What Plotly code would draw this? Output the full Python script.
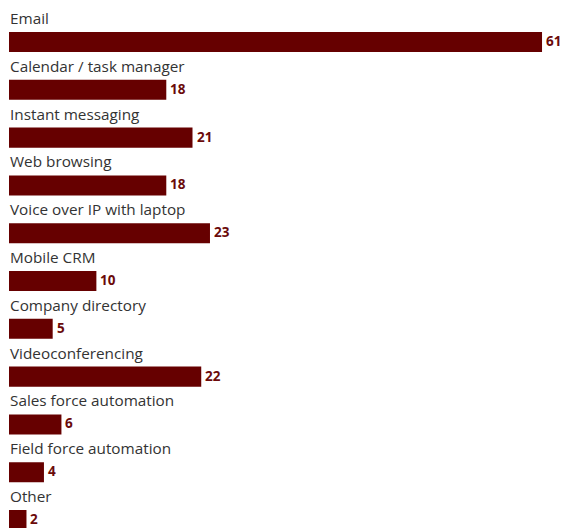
import plotly.graph_objects as go

categories = [
    "Email",
    "Calendar / task manager",
    "Instant messaging",
    "Web browsing",
    "Voice over IP with laptop",
    "Mobile CRM",
    "Company directory",
    "Videoconferencing",
    "Sales force automation",
    "Field force automation",
    "Other",
]
values = [61, 18, 21, 18, 23, 10, 5, 22, 6, 4, 2]

BAR_COLOR = "#660000"
VALUE_COLOR = "#6b0a0a"
LABEL_COLOR = "#333333"
FONT = "Open Sans"

fig = go.Figure(
    go.Bar(
        x=values,
        y=categories,
        orientation="h",
        marker=dict(color=BAR_COLOR, line=dict(width=0)),
        width=0.42,
        hoverinfo="skip",
    )
)

# category name above each bar
for cat in categories:
    fig.add_annotation(
        x=0,
        xref="paper",
        y=cat,
        yref="y",
        yshift=24,
        xshift=-1,
        xanchor="left",
        yanchor="middle",
        text=cat,
        showarrow=False,
        font=dict(family=FONT, size=15.3, color=LABEL_COLOR),
    )

# value at the end of each bar
for cat, v in zip(categories, values):
    fig.add_annotation(
        x=v,
        xref="x",
        y=cat,
        yref="y",
        xshift=3,
        yshift=1,
        xanchor="left",
        yanchor="middle",
        text=f"<b>{v}</b>",
        showarrow=False,
        borderpad=0,
        font=dict(family=FONT, size=13.5, color=VALUE_COLOR),
    )

fig.update_layout(
    width=563,
    height=528,
    margin=dict(l=9, r=0, t=0, b=0),
    paper_bgcolor="white",
    plot_bgcolor="white",
    showlegend=False,
    xaxis=dict(range=[0, 63.4], visible=False, fixedrange=True),
    yaxis=dict(range=[10.167, -0.879], visible=False, fixedrange=True),
)

fig.write_html("out.html")
